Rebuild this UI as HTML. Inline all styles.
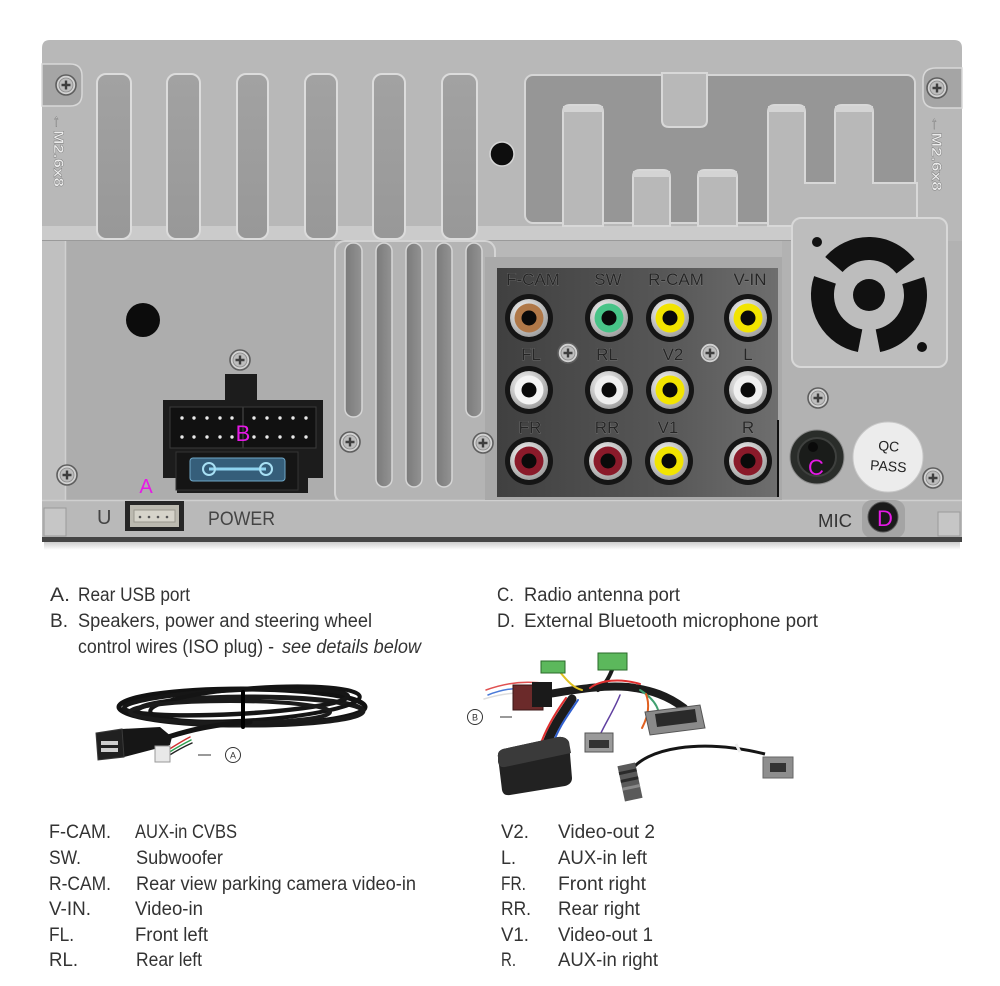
<!DOCTYPE html>
<html><head><meta charset="utf-8"><style>html,body{margin:0;padding:0;background:#fff;width:1000px;height:986px;overflow:hidden}svg{display:block}</style></head>
<body>
<svg width="1000" height="986" viewBox="0 0 1000 986" xmlns="http://www.w3.org/2000/svg" font-family="'Liberation Sans', sans-serif">
<defs>
<linearGradient id="rca" x1="0" y1="0" x2="1" y2="0"><stop offset="0" stop-color="#404040"/><stop offset="0.6" stop-color="#575757"/><stop offset="1" stop-color="#6e6e6e"/></linearGradient>
<radialGradient id="silver" cx="0.4" cy="0.35" r="0.7"><stop offset="0" stop-color="#ffffff"/><stop offset="1" stop-color="#9a9a9a"/></radialGradient>
<linearGradient id="slot" x1="0" y1="0" x2="0" y2="1"><stop offset="0" stop-color="#a2a2a2"/><stop offset="1" stop-color="#989898"/></linearGradient>
<linearGradient id="vslot" x1="0" y1="0" x2="1" y2="0"><stop offset="0" stop-color="#7a7a7a"/><stop offset="1" stop-color="#939393"/></linearGradient>
<linearGradient id="shadow" x1="0" y1="0" x2="0" y2="1"><stop offset="0" stop-color="#999"/><stop offset="1" stop-color="#fff"/></linearGradient>
<g id="screw"><circle r="10" fill="#d2d2d2" stroke="#5e5e5e" stroke-width="1.6"/><circle r="7" fill="#bdbdbd" stroke="#8a8a8a" stroke-width="0.8"/><path d="M-4.5,0H4.5M0,-4.5V4.5" stroke="#3e3e3e" stroke-width="2.4"/></g>
</defs>

<!-- panel base -->
<path d="M50,40H954Q962,40 962,48V540H42V48Q42,40 50,40Z" fill="#b8b8b8"/>
<!-- ridge -->
<rect x="42" y="226" width="750" height="14" fill="#cbcbcb"/>
<line x1="42" y1="240.5" x2="792" y2="240.5" stroke="#9a9a9a" stroke-width="1"/>

<!-- upper slots -->
<g fill="url(#slot)" stroke="#dcdcdc" stroke-width="2">
<rect x="97" y="74" width="34" height="165" rx="9"/>
<rect x="167" y="74" width="33" height="165" rx="9"/>
<rect x="237" y="74" width="31" height="165" rx="9"/>
<rect x="305" y="74" width="32" height="165" rx="9"/>
<rect x="373" y="74" width="32" height="165" rx="9"/>
<rect x="442" y="74" width="35" height="165" rx="9"/>
</g>

<!-- left/right screw notches -->
<path d="M42,64H70Q82,64 82,76V94Q82,106 70,106H42Z" fill="#a5a5a5" stroke="#d8d8d8" stroke-width="1.5"/>
<use href="#screw" x="66" y="85"/>
<path d="M962,68H936Q923,68 923,80V96Q923,108 936,108H962Z" fill="#a5a5a5" stroke="#d8d8d8" stroke-width="1.5"/>
<use href="#screw" x="937" y="88"/>
<text transform="translate(54,113) rotate(90)" font-size="14" font-weight="bold" fill="#ececec" stroke="#777" stroke-width="0.4" textLength="74" lengthAdjust="spacingAndGlyphs">←M2.6x8</text>
<text transform="translate(932,115) rotate(90)" font-size="14" font-weight="bold" fill="#ececec" stroke="#777" stroke-width="0.4" textLength="76" lengthAdjust="spacingAndGlyphs">←M2.6x8</text>

<!-- hole top -->
<circle cx="502" cy="154" r="12" fill="#0e0e0e" stroke="#d6d6d6" stroke-width="1.5"/>

<!-- meander recess -->
<rect x="525" y="75" width="390" height="148" rx="8" fill="#969696" stroke="#d6d6d6" stroke-width="2"/>
<g fill="#b8b8b8" stroke="#d8d8d8" stroke-width="2">
<path d="M662,73V120Q662,127 669,127H700Q707,127 707,120V73Z"/>
<path d="M563,226V112Q563,105 570,105H596Q603,105 603,112V226Z"/>
<path d="M633,226V177Q633,170 640,170H663Q670,170 670,177V226Z"/>
<path d="M698,226V177Q698,170 705,170H730Q737,170 737,177V226Z"/>
<path d="M768,226V112Q768,105 775,105H798Q805,105 805,112V183H835V112Q835,105 842,105H866Q873,105 873,112V183H917V226Z"/>
</g>
<rect x="563" y="106" width="40" height="6" fill="#d4d4d4"/>
<rect x="768" y="106" width="37" height="6" fill="#d4d4d4"/>
<rect x="835" y="106" width="38" height="6" fill="#d4d4d4"/>
<rect x="633" y="171" width="37" height="6" fill="#d4d4d4"/>
<rect x="698" y="171" width="39" height="6" fill="#d4d4d4"/>

<!-- lower left area -->
<rect x="42" y="241" width="23" height="260" fill="#c0c0c0"/>
<rect x="65" y="241" width="270" height="260" fill="#adadad"/>
<line x1="65.5" y1="241" x2="65.5" y2="501" stroke="#d0d0d0" stroke-width="1.5"/>
<circle cx="143" cy="320" r="17" fill="#0c0c0c"/>

<!-- vent frame -->
<rect x="335" y="241" width="160" height="262" rx="10" fill="#b4b4b4" stroke="#d4d4d4" stroke-width="2"/>
<g fill="url(#vslot)" stroke="#d6d6d6" stroke-width="1.5">
<rect x="345" y="243" width="17" height="174" rx="8"/>
<rect x="376" y="243" width="16" height="244" rx="8"/>
<rect x="406" y="243" width="16" height="244" rx="8"/>
<rect x="436" y="243" width="16" height="244" rx="8"/>
<rect x="466" y="243" width="16" height="174" rx="8"/>
</g>

<!-- right lower area + fan box -->
<rect x="782" y="241" width="180" height="260" fill="#b2b2b2"/>
<rect x="792" y="218" width="155" height="149" rx="9" fill="#bdbdbd" stroke="#d8d8d8" stroke-width="2"/>
<g fill="none" stroke="#111" stroke-width="23">
<path d="M913.2,280.6 A46.5,46.5 0 0 1 877.9,340.7"/>
<path d="M860.1,340.7 A46.5,46.5 0 0 1 825.0,279.9"/>
<path d="M833.9,264.5 A46.5,46.5 0 0 1 905.6,266.4"/>
</g>
<circle cx="869" cy="295" r="16" fill="#111"/>
<circle cx="817" cy="242" r="5" fill="#111"/>
<circle cx="922" cy="347" r="5" fill="#111"/>

<!-- bottom strip -->
<rect x="42" y="500" width="920" height="38" fill="#b9b9b9"/>
<line x1="42" y1="500.5" x2="962" y2="500.5" stroke="#cfcfcf" stroke-width="1.5"/>
<rect x="44" y="508" width="22" height="28" fill="#c6c6c6" stroke="#9a9a9a" stroke-width="1"/>
<rect x="938" y="512" width="22" height="24" fill="#c6c6c6" stroke="#9a9a9a" stroke-width="1"/>

<!-- RCA frame & panel -->
<rect x="485" y="257" width="297" height="243" fill="#a9a9a9"/>
<rect x="497" y="268" width="281" height="229" fill="url(#rca)"/>
<line x1="778" y1="420" x2="778" y2="497" stroke="#111" stroke-width="2"/>
<g font-size="17" fill="#262626" stroke="#909090" stroke-width="0.5" text-anchor="middle" paint-order="stroke">
<text x="533" y="285">F-CAM</text><text x="608" y="285">SW</text><text x="676" y="285">R-CAM</text><text x="750" y="285">V-IN</text>
<text x="531" y="360">FL</text><text x="607" y="360">RL</text><text x="673" y="360">V2</text><text x="748" y="360">L</text>
<text x="530" y="433">FR</text><text x="607" y="433">RR</text><text x="668" y="433">V1</text><text x="748" y="433">R</text>
</g>
<use href="#screw" x="568" y="353"/>
<use href="#screw" x="710" y="353"/>

<!-- jacks -->
<g>
<g transform="translate(529,318)"><circle r="24" fill="#151515"/><circle r="19" fill="url(#silver)"/><circle r="14.5" fill="#b07848"/><circle r="7.5" fill="#0a0a0a"/></g>
<g transform="translate(609,318)"><circle r="24" fill="#151515"/><circle r="19" fill="url(#silver)"/><circle r="14.5" fill="#48c488"/><circle r="7.5" fill="#0a0a0a"/></g>
<g transform="translate(670,318)"><circle r="24" fill="#151515"/><circle r="19" fill="url(#silver)"/><circle r="14.5" fill="#f2e400"/><circle r="7.5" fill="#0a0a0a"/></g>
<g transform="translate(748,318)"><circle r="24" fill="#151515"/><circle r="19" fill="url(#silver)"/><circle r="14.5" fill="#f2e400"/><circle r="7.5" fill="#0a0a0a"/></g>
<g transform="translate(529,390)"><circle r="24" fill="#151515"/><circle r="19" fill="url(#silver)"/><circle r="14.5" fill="#f4f4f4"/><circle r="7.5" fill="#0a0a0a"/></g>
<g transform="translate(609,390)"><circle r="24" fill="#151515"/><circle r="19" fill="url(#silver)"/><circle r="14.5" fill="#efefef"/><circle r="7.5" fill="#0a0a0a"/></g>
<g transform="translate(670,390)"><circle r="24" fill="#151515"/><circle r="19" fill="url(#silver)"/><circle r="14.5" fill="#f2e400"/><circle r="7.5" fill="#0a0a0a"/></g>
<g transform="translate(748,390)"><circle r="24" fill="#151515"/><circle r="19" fill="url(#silver)"/><circle r="14.5" fill="#f0f0f0"/><circle r="7.5" fill="#0a0a0a"/></g>
<g transform="translate(529,461)"><circle r="24" fill="#151515"/><circle r="19" fill="url(#silver)"/><circle r="14.5" fill="#8a1a2a"/><circle r="7.5" fill="#0a0a0a"/></g>
<g transform="translate(608,461)"><circle r="24" fill="#151515"/><circle r="19" fill="url(#silver)"/><circle r="14.5" fill="#8a1a2a"/><circle r="7.5" fill="#0a0a0a"/></g>
<g transform="translate(669,461)"><circle r="24" fill="#151515"/><circle r="19" fill="url(#silver)"/><circle r="14.5" fill="#f2e400"/><circle r="7.5" fill="#0a0a0a"/></g>
<g transform="translate(748,461)"><circle r="24" fill="#151515"/><circle r="19" fill="url(#silver)"/><circle r="14.5" fill="#8a1a2a"/><circle r="7.5" fill="#0a0a0a"/></g>
</g>

<!-- C antenna, QC, D -->
<use href="#screw" x="818" y="398"/>
<circle cx="817" cy="457" r="27" fill="#2a2d2a" stroke="#8a8a8a" stroke-width="1"/>
<circle cx="817" cy="457" r="19" fill="#1a1c1a" stroke="#3e403e" stroke-width="2"/>
<circle cx="813" cy="447" r="5" fill="#0a0a0a"/>
<text x="816" y="475" font-size="22" fill="#e619e6" text-anchor="middle">C</text>
<circle cx="888" cy="457" r="35" fill="#ececec" stroke="#c8c8c8" stroke-width="1"/>
<g transform="rotate(4 888 457)" font-size="14" fill="#222" text-anchor="middle"><text x="888" y="451">QC</text><text x="889" y="471">PASS</text></g>
<use href="#screw" x="933" y="478"/>
<text x="818" y="527" font-size="18" fill="#333" textLength="34" lengthAdjust="spacingAndGlyphs">MIC</text>
<rect x="862" y="500" width="43" height="38" rx="10" fill="#a4a4a4"/>
<circle cx="883" cy="517" r="15" fill="#1a1a1a" stroke="#555" stroke-width="1"/>
<text x="885" y="526" font-size="22" fill="#e619e6" text-anchor="middle">D</text>

<!-- ISO connector B -->
<use href="#screw" x="240" y="360"/>
<rect x="225" y="374" width="32" height="30" fill="#1c1c1c"/>
<path d="M163,400H323V478H308V493H177V478H163Z" fill="#1c1c1c"/>
<rect x="170" y="407" width="146" height="41" fill="#111" stroke="#3a3a3a" stroke-width="1"/>
<line x1="243" y1="407" x2="243" y2="448" stroke="#3a3a3a" stroke-width="1.5"/>
<g fill="#e8e8e8">
<circle cx="182" cy="418" r="1.7"/><circle cx="194" cy="418" r="1.7"/><circle cx="207" cy="418" r="1.7"/><circle cx="220" cy="418" r="1.7"/><circle cx="232" cy="418" r="1.7"/>
<circle cx="254" cy="418" r="1.7"/><circle cx="267" cy="418" r="1.7"/><circle cx="280" cy="418" r="1.7"/><circle cx="293" cy="418" r="1.7"/><circle cx="306" cy="418" r="1.7"/>
<circle cx="182" cy="437" r="1.7"/><circle cx="194" cy="437" r="1.7"/><circle cx="207" cy="437" r="1.7"/><circle cx="220" cy="437" r="1.7"/><circle cx="232" cy="437" r="1.7"/>
<circle cx="254" cy="437" r="1.7"/><circle cx="267" cy="437" r="1.7"/><circle cx="280" cy="437" r="1.7"/><circle cx="293" cy="437" r="1.7"/><circle cx="306" cy="437" r="1.7"/>
</g>
<path d="M176,452H298V490H176Z" fill="#151515" stroke="#333" stroke-width="1"/>
<rect x="190" y="458" width="95" height="23" rx="3" fill="#355e7a" stroke="#6fa8c8" stroke-width="1"/>
<line x1="209" y1="469" x2="266" y2="469" stroke="#8fd4f0" stroke-width="3"/>
<circle cx="209" cy="469" r="6" fill="none" stroke="#a8e0f4" stroke-width="2"/>
<circle cx="266" cy="469" r="6" fill="none" stroke="#a8e0f4" stroke-width="2"/>
<text x="243" y="441" font-size="22" fill="#e619e6" text-anchor="middle">B</text>

<!-- USB port A -->
<use href="#screw" x="67" y="475"/>
<use href="#screw" x="350" y="442"/>
<use href="#screw" x="483" y="443"/>
<text x="146" y="493" font-size="20" fill="#e619e6" text-anchor="middle">A</text>
<rect x="125" y="501" width="59" height="30" fill="#262626"/>
<rect x="130" y="505" width="49" height="22" fill="#bcbab0"/>
<rect x="134" y="510" width="41" height="12" fill="#d6d4ca" stroke="#9a988e" stroke-width="1"/>
<g fill="#555"><circle cx="140" cy="517" r="1.3"/><circle cx="149" cy="517" r="1.3"/><circle cx="158" cy="517" r="1.3"/><circle cx="167" cy="517" r="1.3"/></g>
<text x="97" y="524" font-size="20" fill="#444">U</text>
<text x="208" y="525" font-size="19" fill="#444" textLength="67" lengthAdjust="spacingAndGlyphs">POWER</text>

<!-- bottom edge -->
<rect x="42" y="537" width="920" height="5" fill="#444"/>
<rect x="44" y="542" width="916" height="8" fill="url(#shadow)" opacity="0.5"/>

<!-- Captions -->
<g font-size="19" fill="#333">
<text x="50" y="601" textLength="20" lengthAdjust="spacingAndGlyphs">A.</text>
<text x="78" y="601" textLength="112" lengthAdjust="spacingAndGlyphs">Rear USB port</text>
<text x="50" y="627" textLength="18" lengthAdjust="spacingAndGlyphs">B.</text>
<text x="78" y="627" textLength="294" lengthAdjust="spacingAndGlyphs">Speakers, power and steering wheel</text>
<text x="78" y="653" textLength="196" lengthAdjust="spacingAndGlyphs">control wires (ISO plug) -</text>
<text x="282" y="653" font-style="italic" textLength="139" lengthAdjust="spacingAndGlyphs">see details below</text>
<text x="497" y="601" textLength="17" lengthAdjust="spacingAndGlyphs">C.</text>
<text x="524" y="601" textLength="156" lengthAdjust="spacingAndGlyphs">Radio antenna port</text>
<text x="497" y="627" textLength="18" lengthAdjust="spacingAndGlyphs">D.</text>
<text x="524" y="627" textLength="294" lengthAdjust="spacingAndGlyphs">External Bluetooth microphone port</text>
</g>

<!-- USB cable -->
<g fill="none" stroke-linecap="round">
<ellipse cx="242" cy="707" rx="123" ry="18" stroke="#121212" stroke-width="5"/>
<ellipse cx="250" cy="711" rx="113" ry="14" stroke="#1a1a1a" stroke-width="5"/>
<ellipse cx="236" cy="702" rx="112" ry="12" stroke="#161616" stroke-width="4.5" transform="rotate(-3 236 702)"/>
<ellipse cx="255" cy="704" rx="105" ry="16" stroke="#141414" stroke-width="4" transform="rotate(-4 255 704)"/>
<ellipse cx="230" cy="712" rx="100" ry="11" stroke="#1b1b1b" stroke-width="4"/>
<path d="M168,737 C190,730 215,724 250,722" stroke="#141414" stroke-width="5"/>
<line x1="243" y1="692" x2="243" y2="727" stroke="#000" stroke-width="4"/>
<path d="M168,750 C176,745 182,741 190,737" stroke="#d03030" stroke-width="1.5"/>
<path d="M168,753 C176,748 183,744 191,740" stroke="#30a050" stroke-width="1.5"/>
<path d="M168,756 C176,751 183,747 192,743" stroke="#222" stroke-width="1.5"/>
</g>
<path d="M122,729 L160,727 L172,737 L170,745 L124,757 Z" fill="#161616"/>
<path d="M96,733 L122,729 L124,757 L98,760 Z" fill="#202020" stroke="#3a3a3a" stroke-width="1"/>
<rect x="101" y="741" width="17" height="11" fill="#cfcfcf"/>
<rect x="101" y="745" width="17" height="3" fill="#222"/>
<rect x="155" y="746" width="15" height="16" fill="#e8e8e8" stroke="#999" stroke-width="1"/>
<line x1="198" y1="755" x2="211" y2="755" stroke="#333" stroke-width="1"/>
<circle cx="233" cy="755" r="7.5" fill="#fff" stroke="#333" stroke-width="1"/>
<text x="233" y="758.5" font-size="9" fill="#333" text-anchor="middle">A</text>

<!-- Harness B -->
<g fill="none" stroke-linecap="round">
<path d="M486,690 C505,683 525,680 548,684" stroke="#e05050" stroke-width="1.5"/>
<path d="M488,695 C505,688 525,686 548,690" stroke="#4a7ad8" stroke-width="1.5"/>
<path d="M484,699 C500,694 515,692 530,693" stroke="#ddd" stroke-width="1.5"/>
<path d="M548,694 C575,690 600,685 628,687 C652,690 668,696 684,708" stroke="#1c1c1c" stroke-width="8"/>
<path d="M560,672 C568,682 574,688 582,690" stroke="#e0c020" stroke-width="2"/>
<path d="M612,670 C608,680 604,686 598,690" stroke="#1c1c1c" stroke-width="4"/>
<path d="M572,699 C562,714 552,728 546,746" stroke="#1c1c1c" stroke-width="9"/>
<path d="M578,700 C568,715 558,728 553,744" stroke="#3060d0" stroke-width="2"/>
<path d="M566,698 C556,712 546,728 540,746" stroke="#e03030" stroke-width="2"/>
<path d="M640,690 C656,700 662,712 657,722" stroke="#40a070" stroke-width="2"/>
<path d="M646,694 C652,710 644,724 642,728" stroke="#e06020" stroke-width="2"/>
<path d="M620,695 C614,710 606,722 600,735" stroke="#6040a0" stroke-width="1.5"/>
<path d="M590,688 C600,680 620,678 640,684" stroke="#e03030" stroke-width="2"/>
</g>
<rect x="513" y="685" width="30" height="25" fill="#6b2a2a" stroke="#3a1515" stroke-width="1"/>
<rect x="532" y="682" width="20" height="25" fill="#1a1a1a"/>
<rect x="541" y="661" width="24" height="12" fill="#5cb85c" stroke="#2a6a2a" stroke-width="1"/>
<rect x="598" y="653" width="29" height="17" fill="#5cb85c" stroke="#2a6a2a" stroke-width="1"/>
<path d="M645,712 L700,705 L705,728 L650,735 Z" fill="#8a8a8a" stroke="#555" stroke-width="1"/>
<path d="M655,714 L695,709 L697,722 L657,727 Z" fill="#2a2a2a"/>
<rect x="585" y="733" width="28" height="19" fill="#9a9a9a" stroke="#555" stroke-width="1"/>
<rect x="589" y="740" width="20" height="8" fill="#333"/>
<path d="M498,757 Q497,751 503,749 L558,737 Q566,736 569,742 L572,778 Q572,784 565,786 L510,795 Q503,796 502,790 Z" fill="#222"/>
<path d="M498,757 Q497,751 503,749 L558,737 Q566,736 569,742 L571,753 L505,767 Q499,768 498,762 Z" fill="#3a3a3a"/>
<line x1="500" y1="717" x2="512" y2="717" stroke="#333" stroke-width="1"/>
<circle cx="475" cy="717" r="7.5" fill="#fff" stroke="#333" stroke-width="1"/>
<text x="475" y="720.5" font-size="9" fill="#333" text-anchor="middle">B</text>

<!-- antenna adapter -->
<path d="M630,772 C645,748 700,738 765,754" fill="none" stroke="#151515" stroke-width="3"/>
<line x1="736" y1="744" x2="740" y2="752" stroke="#eee" stroke-width="3"/>
<rect x="763" y="757" width="30" height="21" fill="#8e8e8e" stroke="#666" stroke-width="1"/>
<rect x="770" y="763" width="16" height="9" fill="#333"/>
<g transform="rotate(-12 630 782)">
<rect x="621" y="764" width="18" height="36" fill="#5a5a5a"/>
<rect x="621" y="770" width="18" height="3" fill="#2a2a2a"/>
<rect x="621" y="778" width="18" height="3" fill="#2a2a2a"/>
<rect x="621" y="786" width="18" height="3" fill="#8a8a8a"/>
</g>

<!-- table -->
<g font-size="19" fill="#333">
<text x="49" y="838" textLength="62" lengthAdjust="spacingAndGlyphs">F-CAM.</text>
<text x="135" y="838" textLength="102" lengthAdjust="spacingAndGlyphs">AUX-in CVBS</text>
<text x="49" y="864" textLength="32" lengthAdjust="spacingAndGlyphs">SW.</text>
<text x="136" y="864" textLength="87" lengthAdjust="spacingAndGlyphs">Subwoofer</text>
<text x="49" y="890" textLength="62" lengthAdjust="spacingAndGlyphs">R-CAM.</text>
<text x="136" y="890" textLength="280" lengthAdjust="spacingAndGlyphs">Rear view parking camera video-in</text>
<text x="49" y="915" textLength="42" lengthAdjust="spacingAndGlyphs">V-IN.</text>
<text x="135" y="915" textLength="68" lengthAdjust="spacingAndGlyphs">Video-in</text>
<text x="49" y="941" textLength="25" lengthAdjust="spacingAndGlyphs">FL.</text>
<text x="135" y="941" textLength="73" lengthAdjust="spacingAndGlyphs">Front left</text>
<text x="49" y="966" textLength="29" lengthAdjust="spacingAndGlyphs">RL.</text>
<text x="136" y="966" textLength="66" lengthAdjust="spacingAndGlyphs">Rear left</text>

<text x="501" y="838" textLength="28" lengthAdjust="spacingAndGlyphs">V2.</text>
<text x="558" y="838" textLength="97" lengthAdjust="spacingAndGlyphs">Video-out 2</text>
<text x="501" y="864" textLength="15" lengthAdjust="spacingAndGlyphs">L.</text>
<text x="558" y="864" textLength="89" lengthAdjust="spacingAndGlyphs">AUX-in left</text>
<text x="501" y="890" textLength="25" lengthAdjust="spacingAndGlyphs">FR.</text>
<text x="558" y="890" textLength="88" lengthAdjust="spacingAndGlyphs">Front right</text>
<text x="501" y="915" textLength="30" lengthAdjust="spacingAndGlyphs">RR.</text>
<text x="558" y="915" textLength="82" lengthAdjust="spacingAndGlyphs">Rear right</text>
<text x="501" y="941" textLength="28" lengthAdjust="spacingAndGlyphs">V1.</text>
<text x="558" y="941" textLength="95" lengthAdjust="spacingAndGlyphs">Video-out 1</text>
<text x="501" y="966" textLength="15" lengthAdjust="spacingAndGlyphs">R.</text>
<text x="558" y="966" textLength="100" lengthAdjust="spacingAndGlyphs">AUX-in right</text>
</g>
</svg>
</body></html>
